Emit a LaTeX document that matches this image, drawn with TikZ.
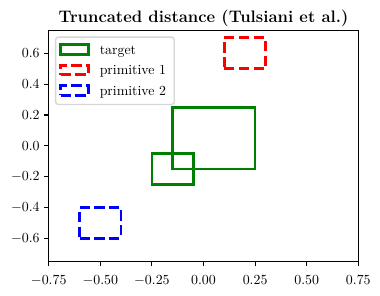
\documentclass[tikz,border=0pt]{standalone}
\definecolor{mplgreen}{HTML}{008000}
\definecolor{mplred}{HTML}{FF0000}
\definecolor{mplblue}{HTML}{0000FF}
\definecolor{legedge}{gray}{0.84}
\begin{document}
\begin{tikzpicture}[x=0.72pt,y=0.72pt,
  spine/.style={line width=0.8pt,line join=miter},
  tickmark/.style={line width=0.8pt},
  ticklab/.style={inner sep=0pt,font=\fontsize{10}{12}\selectfont},
  leglab/.style={inner sep=0pt,anchor=base west,font=\fontsize{10}{12}\selectfont},
  tgt/.style={draw=mplgreen,line width=2pt,line join=miter},
  prim/.style={line width=2pt,line join=miter,dash pattern=on 7.4pt off 3.2pt},
  legframe/.style={draw=legedge,fill=white,line width=1pt,rounded corners=2pt},
]
\useasboundingbox (0,0) rectangle (380,295);
% data coordinates
\begin{scope}[shift={(146.52pt,107.424pt)},x=148.608pt,y=111.024pt]
  % target boxes
  \draw[tgt] (-0.15,-0.15) -- (0.25,-0.15) -- (0.25,0.25) -- (-0.15,0.25) -- cycle;
  \draw[tgt] (-0.25,-0.25) -- (-0.05,-0.25) -- (-0.05,-0.05) -- (-0.25,-0.05) -- cycle;
  % primitives
  \draw[prim,draw=mplred] (0.1,0.5) -- (0.3,0.5) -- (0.3,0.7) -- (0.1,0.7) -- cycle;
  \draw[prim,draw=mplblue] (-0.6,-0.6) -- (-0.4,-0.6) -- (-0.4,-0.4) -- (-0.6,-0.4) -- cycle;
  % axes frame
  \draw[spine] (-0.75,-0.75) rectangle (0.75,0.75);
  \coordinate (axtop) at (0,0.75);
  % x ticks
  \foreach \v/\t [count=\i] in {-0.75/$-0.75$,-0.5/$-0.50$,-0.25/$-0.25$,0/$0.00$,0.25/$0.25$,0.5/$0.50$,0.75/$0.75$}{
    \coordinate (xt\i) at (\v,-0.75);
    \draw[tickmark] (xt\i) -- ++(0,-3.5pt);
    \node[ticklab,anchor=north,yshift=-9.6pt] (xl\i) at (xt\i) {\t};
  }
  % y ticks
  \foreach \v/\t [count=\i] in {-0.6/$-0.6$,-0.4/$-0.4$,-0.2/$-0.2$,0/$0.0$,0.2/$0.2$,0.4/$0.4$,0.6/$0.6$}{
    \coordinate (yt\i) at (-0.75,\v);
    \draw[tickmark] (yt\i) -- ++(-3.5pt,0);
    \node[ticklab,anchor=east,xshift=-6.3pt] (yl\i) at (yt\i) {\t};
  }
\end{scope}
% title
\node[inner sep=0pt,anchor=base,yshift=5.6pt,font=\fontsize{12}{14}\selectfont\bfseries] (title) at (axtop) {Truncated distance (Tulsiani et al.)};
% legend
\draw[legframe] (55.6,257.9) rectangle (174.3,190.5);
\coordinate (h1) at (60.6,245.5);
\coordinate (h2) at (60.6,225.0);
\coordinate (h3) at (60.6,204.4);
\draw[tgt] ([yshift=-3.5pt]h1) -- ++(20pt,0) -- ++(0,7pt) -- ++(-20pt,0) -- cycle;
\draw[prim,draw=mplred] ([yshift=-3.5pt]h2) -- ++(20pt,0) -- ++(0,7pt) -- ++(-20pt,0) -- cycle;
\draw[prim,draw=mplblue] ([yshift=-3.5pt]h3) -- ++(20pt,0) -- ++(0,7pt) -- ++(-20pt,0) -- cycle;
\node[leglab] (l1) at ([xshift=28pt,yshift=-3.4pt]h1) {target};
\node[leglab] (l2) at ([xshift=28pt,yshift=-3.4pt]h2) {primitive 1};
\node[leglab] (l3) at ([xshift=28pt,yshift=-3.4pt]h3) {primitive 2};
\end{tikzpicture}
\end{document}
